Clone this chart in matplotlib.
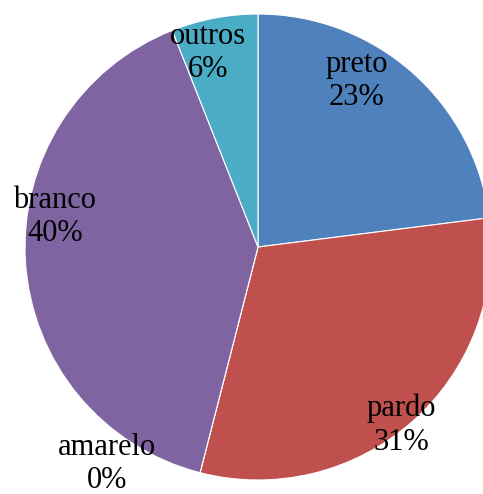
import matplotlib.pyplot as plt

categorias = ['preto', 'pardo', 'amarelo', 'branco', 'outros']
percentuais = [23, 31, 0, 40, 6]
cores = ['#4F81BD', '#C0504D', '#9BBB59', '#8064A2', '#4BACC6']

# posicao dos rotulos (pixels, origem no canto superior esquerdo)
pos_rotulos = [(357, 81), (401, 425), (107, 464), (55, 217), (208, 53)]

W, H = 483, 494
fig = plt.figure(figsize=(W / 100, H / 100), dpi=100)
ax = fig.add_axes([0, 0, 1, 1])

ax.pie(percentuais, colors=cores, startangle=90, counterclock=False,
       center=(258, H - 247), radius=233, frame=True,
       wedgeprops=dict(edgecolor='white', linewidth=0.8))
ax.set_xlim(0, W)
ax.set_ylim(0, H)
ax.set_aspect('equal')
ax.axis('off')

for nome, p, (x, y) in zip(categorias, percentuais, pos_rotulos):
    ax.text(x, H - y, f'{nome}\n{p}%', ha='center', va='center',
            fontsize=22, family='Liberation Serif', linespacing=1.22)

fig.savefig('out.png', dpi=100)
